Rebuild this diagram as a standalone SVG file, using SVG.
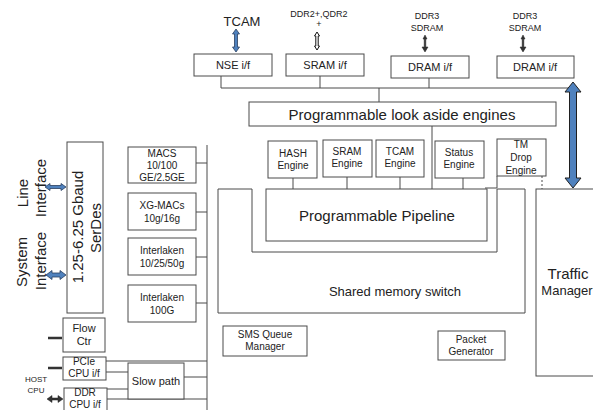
<svg xmlns="http://www.w3.org/2000/svg" width="593" height="410" viewBox="0 0 593 410">
<style>
.box{fill:#fff;stroke:#4a4a4a;stroke-width:1}
.ln{fill:none;stroke:#4a4a4a;stroke-width:1}
text{font-family:"Liberation Sans",Arial,sans-serif;fill:#222;text-anchor:middle}
.s8{font-size:8px}.s9{font-size:9px}.s10{font-size:10px}.s11{font-size:11px}.s13{font-size:13px}.s15{font-size:15px}
.blue{fill:#4f81bd;stroke:#2a3f5f;stroke-width:0.8}
.dark{fill:#333;stroke:#222;stroke-width:0.5}
</style>
<rect width="593" height="410" fill="#fff"/>
<g id="connectors">
  <path class="ln" d="M221 76V88M320 76V88M429 78V88M221 88H570M379 88V102"/>
  <path class="ln" d="M432 126V189"/>
  <path class="ln" d="M293 178V189M347 177V189M400 177V189M463 178V189"/>
  <path class="ln" d="M497 176V188H485"/>
  <path class="ln" d="M542 176V189" stroke-dasharray="2 2"/>
  <path class="ln" d="M207 145V410M196 163H207M196 212H207M196 257H207M196 303H207"/>
  <path class="ln" d="M106 361H207M106 372H128M107 389H128M107 399H207M184 377H207"/>
  <path d="M48 338H62M48 368H62" stroke="#333" stroke-width="2.5"/>
  <polygon class="dark" points="47,399 52,395.5 52,398 58,398 58,395.5 63,399 58,402.5 58,400 52,400 52,402.5"/>
  <polygon class="blue" points="236,29 239.5,34 237.5,34 237.5,47 239.5,47 236,52 232.5,47 234.5,47 234.5,34 232.5,34"/>
  <polygon points="317,32 319.5,36 318.2,36 318.2,46 319.5,46 317,50 314.5,46 315.8,46 315.8,36 314.5,36" fill="#fff" stroke="#111" stroke-width="1"/>
  <polygon class="dark" points="425,35 427,39 425.8,39 425.8,47 428,47 425,52 422,47 424.2,47 424.2,39 423,39"/>
  <polygon class="dark" points="523,35 525,39 523.8,39 523.8,47 526,47 523,52 520,47 522.2,47 522.2,39 521,39"/>
  <polygon points="573,82 581,92 576.5,92 576.5,178 581,178 573,188 565,178 569.5,178 569.5,92 565,92" fill="#4f81bd" stroke="#1f1f1f" stroke-width="1"/>
  <polygon class="blue" points="45,187 50,183.5 50,185.5 61,185.5 61,183.5 66,187 61,190.5 61,188.5 50,188.5 50,190.5"/>
  <polygon class="blue" points="46,275 52,270.5 52,273 60,273 60,270.5 66,275 60,279.5 60,277 52,277 52,279.5"/>
</g>
<g id="tcam"><text class="s13" x="242" y="26">TCAM</text></g>
<g id="ddr2"><text class="s9" x="319" y="17">DDR2+,QDR2</text><text class="s9" x="319" y="27">+</text></g>
<g id="ddr3a"><text class="s9" x="427" y="19">DDR3</text><text class="s9" x="427" y="31">SDRAM</text></g>
<g id="ddr3b"><text class="s9" x="525" y="19">DDR3</text><text class="s9" x="525" y="31">SDRAM</text></g>
<g id="nse"><rect class="box" x="194" y="54" width="78" height="22"/><text class="s11" x="233" y="69">NSE i/f</text></g>
<g id="srami"><rect class="box" x="286" y="54" width="78" height="22"/><text class="s11" x="325" y="69">SRAM i/f</text></g>
<g id="drami1"><rect class="box" x="391" y="56" width="78" height="22"/><text class="s11" x="430" y="71">DRAM i/f</text></g>
<g id="drami2"><rect class="box" x="497" y="56" width="77" height="22"/><text class="s11" x="535" y="71">DRAM i/f</text></g>
<g id="lookaside"><rect class="box" x="249" y="102" width="307" height="24"/><text class="s15" x="402" y="120">Programmable look aside engines</text></g>
<g id="hash"><rect class="box" x="268" y="141" width="49" height="37"/><text class="s10" x="293" y="157">HASH</text><text class="s10" x="293" y="169">Engine</text></g>
<g id="srame"><rect class="box" x="323" y="140" width="49" height="37"/><text class="s10" x="347" y="155">SRAM</text><text class="s10" x="347" y="167">Engine</text></g>
<g id="tcame"><rect class="box" x="376" y="140" width="48" height="37"/><text class="s10" x="400" y="155">TCAM</text><text class="s10" x="400" y="167">Engine</text></g>
<g id="status"><rect class="box" x="435" y="141" width="49" height="37"/><text class="s10" x="459" y="156">Status</text><text class="s10" x="459" y="168">Engine</text></g>
<g id="tmdrop"><rect class="box" x="497" y="139" width="49" height="37"/><text class="s10" x="521" y="148">TM</text><text class="s10" x="521" y="161">Drop</text><text class="s10" x="521" y="174">Engine</text></g>
<g id="sms"><polygon class="box" points="218,189 252,189 252,252 497,252 497,189 525,189 525,313 218,313"/><text class="s13" x="395" y="296">Shared memory switch</text></g>
<g id="pipeline"><rect class="box" x="266" y="189" width="221" height="52"/><text class="s15" x="377" y="221">Programmable Pipeline</text></g>
<g id="traffic"><rect class="box" x="536" y="189" width="70" height="187"/><text class="s15" x="568" y="279">Traffic</text><text class="s13" x="567" y="295">Manager</text></g>
<g id="smsq"><rect class="box" x="223" y="326" width="84" height="30"/><text class="s10" x="265" y="338">SMS Queue</text><text class="s10" x="265" y="350">Manager</text></g>
<g id="pktgen"><rect class="box" x="438" y="331" width="67" height="29"/><text class="s10" x="471" y="343">Packet</text><text class="s10" x="471" y="355">Generator</text></g>
<g id="serdes"><rect class="box" x="67" y="142" width="36" height="171"/><text class="s15" transform="translate(83,227) rotate(-90)">1.25-6.25 Gbaud</text><text class="s15" transform="translate(101,228) rotate(-90)">SerDes</text></g>
<g id="lineif"><text class="s15" transform="translate(28,193) rotate(-90)">Line</text><text class="s15" transform="translate(46,188) rotate(-90)">Interface</text></g>
<g id="sysif"><text class="s15" transform="translate(27,262) rotate(-90)">System</text><text class="s15" transform="translate(46,261) rotate(-90)">Interface</text></g>
<g id="macs"><rect class="box" x="128" y="147" width="68" height="36"/><text class="s10" x="162" y="157">MACS</text><text class="s10" x="162" y="169">10/100</text><text class="s10" x="162" y="181">GE/2.5GE</text></g>
<g id="xgmacs"><rect class="box" x="128" y="193" width="68" height="37"/><text class="s10" x="162" y="209">XG-MACs</text><text class="s10" x="162" y="222">10g/16g</text></g>
<g id="il50"><rect class="box" x="128" y="238" width="68" height="37"/><text class="s10" x="162" y="254">Interlaken</text><text class="s10" x="162" y="267">10/25/50g</text></g>
<g id="il100"><rect class="box" x="128" y="285" width="68" height="37"/><text class="s10" x="162" y="301">Interlaken</text><text class="s10" x="162" y="314">100G</text></g>
<g id="flowctr"><rect class="box" x="63" y="318" width="42" height="34"/><text class="s11" x="84" y="332">Flow</text><text class="s11" x="84" y="345">Ctr</text></g>
<g id="pcie"><rect class="box" x="63" y="357" width="43" height="23"/><text class="s10" x="84" y="365">PCIe</text><text class="s10" x="84" y="377">CPU i/f</text></g>
<g id="ddrcpu"><rect class="box" x="64" y="388" width="43" height="30"/><text class="s10" x="85" y="396">DDR</text><text class="s10" x="85" y="408">CPU i/f</text></g>
<g id="host"><text class="s8" x="36" y="382">HOST</text><text class="s8" x="36" y="393">CPU</text></g>
<g id="slowpath"><rect class="box" x="128" y="363" width="56" height="36"/><text class="s11" x="156" y="385">Slow path</text></g>
</svg>
